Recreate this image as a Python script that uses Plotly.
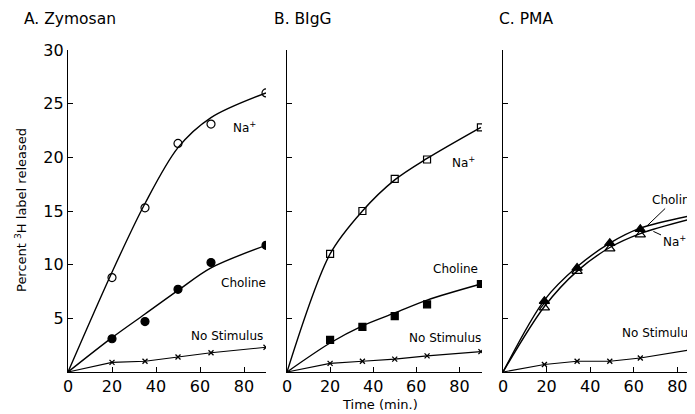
import plotly.graph_objects as go

# ---------------- data ----------------
time_ab = [20, 35, 50, 65, 90]
time_c = [19, 34, 49, 63, 87]

# measured points
zym_na = [8.8, 15.3, 21.3, 23.1, 26.0]
zym_choline = [3.1, 4.7, 7.7, 10.2, 11.8]
zym_nostim = [0.9, 1.0, 1.4, 1.8, 2.3]

bigg_na = [11.0, 15.0, 18.0, 19.8, 22.8]
bigg_choline = [3.0, 4.2, 5.2, 6.3, 8.2]
bigg_nostim = [0.8, 1.0, 1.2, 1.5, 1.9]

pma_choline = [6.6, 9.7, 12.0, 13.3, 14.5]
pma_na = [6.0, 9.4, 11.5, 12.8, 14.2]
pma_nostim = [0.7, 1.0, 1.0, 1.3, 2.1]

# hand-drawn fitted curves, starting at t = 0
fit_time_ab = [0, 20, 35, 50, 65, 90]
fit_time_c = [0, 19, 34, 49, 63, 87]
zym_na_fit = [0, 9.3, 15.7, 20.9, 23.7, 26.0]
zym_choline_fit = [0, 3.2, 5.4, 7.6, 9.7, 11.8]
bigg_na_fit = [0, 11.0, 15.0, 17.9, 19.9, 22.8]
bigg_choline_fit = [0, 2.7, 4.3, 5.5, 6.7, 8.2]
pma_choline_fit = [0, 6.7, 9.8, 12.0, 13.4, 14.6]
pma_na_fit = [0, 6.1, 9.4, 11.6, 12.9, 14.3]

x_ticks = [0, 20, 40, 60, 80]
x_tick_text = ["0", "20", "40", "60", "80"]
y_ticks = [5, 10, 15, 20, 25, 30]
y_tick_text = ["5", "10", "15", "20", "25", "30"]

panel_titles = ["A. Zymosan", "B. BIgG", "C. PMA"]

# ---------------- layout geometry (screen pixels) ----------------
W, H = 695, 414
OFF = 8  # the page body adds an 8px margin around the figure
FONT = "DejaVu Sans"
px = lambda v: (v - OFF) / W
py = lambda v: 1 - (v - OFF) / H

y_bottom, y_top = 372, 50
panels = [
    dict(x0=68, x1=266, xmax=90),
    dict(x0=287, x1=482, xmax=90.5),
    dict(x0=503, x1=695, xmax=88.1),
]

c = panels[2]
cx = lambda v: (v - c["x0"]) / (c["x1"] - c["x0"]) * c["xmax"]
cy = lambda v: (y_bottom - v) / (y_bottom - y_top) * 30

fig = go.Figure()


def axes(i):
    return ("x" if i == 0 else f"x{i+1}", "y" if i == 0 else f"y{i+1}")


def add_curve(i, xs, ys, width=1.4):
    xa, ya = axes(i)
    fig.add_trace(go.Scatter(
        x=xs, y=ys, mode="lines",
        line=dict(color="black", width=width, shape="spline", smoothing=0.9),
        xaxis=xa, yaxis=ya, showlegend=False, hoverinfo="skip"))


def add_points(i, xs, ys, symbol, size, mline=1.2):
    xa, ya = axes(i)
    fig.add_trace(go.Scatter(
        x=xs, y=ys, mode="markers",
        marker=dict(symbol=symbol, size=size, color="black",
                    line=dict(color="black", width=mline)),
        xaxis=xa, yaxis=ya, showlegend=False))


def add_nostim(i, xs, ys):
    xa, ya = axes(i)
    fig.add_trace(go.Scatter(
        x=[0] + list(xs), y=[0] + list(ys), mode="lines",
        line=dict(color="black", width=1.1),
        xaxis=xa, yaxis=ya, showlegend=False))
    fig.add_trace(go.Scatter(
        x=xs, y=ys, mode="markers",
        marker=dict(symbol="x-thin", size=5, color="black",
                    line=dict(color="black", width=1.3)),
        xaxis=xa, yaxis=ya, showlegend=False))


# Panel A
add_curve(0, fit_time_ab, zym_na_fit)
add_points(0, time_ab, zym_na, "circle-open", 8)
add_curve(0, fit_time_ab, zym_choline_fit)
add_points(0, time_ab, zym_choline, "circle", 8)
add_nostim(0, time_ab, zym_nostim)
# Panel B
add_curve(1, fit_time_ab, bigg_na_fit)
add_points(1, time_ab, bigg_na, "square-open", 7)
add_curve(1, fit_time_ab, bigg_choline_fit)
add_points(1, time_ab, bigg_choline, "square", 7)
add_nostim(1, time_ab, bigg_nostim)
# Panel C
add_curve(2, fit_time_c, pma_choline_fit)
add_points(2, time_c, pma_choline, "triangle-up", 9)
add_curve(2, fit_time_c, pma_na_fit)
add_points(2, time_c, pma_na, "triangle-up-open", 9)
add_nostim(2, time_c, pma_nostim)

layout = dict(
    width=W, height=H,
    margin=dict(l=0, r=0, t=0, b=0, autoexpand=False),
    paper_bgcolor="white", plot_bgcolor="white",
    font=dict(family=FONT, color="black", size=13),
    showlegend=False,
)

for i, p in enumerate(panels):
    sx = "" if i == 0 else str(i + 1)
    layout[f"xaxis{sx}"] = dict(
        domain=[px(p["x0"]), px(p["x1"])], range=[0, p["xmax"]],
        anchor=f"y{sx}", showgrid=False, zeroline=False,
        showline=True, linecolor="black", linewidth=1.3,
        ticks="inside", ticklen=5, tickwidth=1.2, tickcolor="black",
        tickvals=x_ticks, ticktext=x_tick_text, automargin=False,
        tickfont=dict(family=FONT, size=16, color="black"),
    )
    layout[f"yaxis{sx}"] = dict(
        domain=[py(y_bottom), py(y_top)], range=[0, 30],
        anchor=f"x{sx}", showgrid=False, zeroline=False,
        showline=True, linecolor="black", linewidth=1.3,
        ticks="inside", ticklen=5, tickwidth=1.2, tickcolor="black",
        tickvals=y_ticks, ticktext=y_tick_text, automargin=False,
        showticklabels=(i == 0),
        tickfont=dict(family=FONT, size=16, color="black"),
    )

fig.update_layout(**layout)

ann = []
for t, xp in zip(panel_titles, [22, 272, 497]):
    ann.append(dict(text=t, x=px(xp), y=py(19), xref="paper", yref="paper",
                    xanchor="left", yanchor="middle", showarrow=False,
                    font=dict(size=15.5)))

ann.append(dict(text="Percent <sup>3</sup>H label released", x=px(21), y=py(210),
                xref="paper", yref="paper", textangle=-90, showarrow=False,
                xanchor="center", yanchor="middle", font=dict(size=13)))
ann.append(dict(text="Time (min.)", x=px(380), y=py(404), xref="paper", yref="paper",
                showarrow=False, xanchor="center", yanchor="middle", font=dict(size=13)))

lab = [
    ("Na<sup>+</sup>", 245, 127),
    ("Choline", 243, 283),
    ("No Stimulus", 227, 336),
    ("Na<sup>+</sup>", 463, 162),
    ("Choline", 455, 269),
    ("No Stimulus", 445, 338),
    ("No Stimulus", 658, 333),
]
for t, xx, yy in lab:
    ann.append(dict(text=t, x=px(xx), y=py(yy), xref="paper", yref="paper",
                    showarrow=False, xanchor="center", yanchor="middle",
                    font=dict(size=12)))

ann.append(dict(text="Choline", x=66, y=13.6, xref="x3", yref="y3",
                ax=cx(674), ay=cy(200), axref="x3", ayref="y3",
                showarrow=True, arrowhead=0,
                arrowwidth=1, arrowcolor="black", standoff=0, font=dict(size=12)))
ann.append(dict(text="Na<sup>+</sup>", x=69, y=13.1, xref="x3", yref="y3",
                ax=cx(674), ay=cy(241), axref="x3", ayref="y3",
                showarrow=True, arrowhead=0,
                arrowwidth=1, arrowcolor="black", standoff=0, font=dict(size=12)))

fig.update_layout(annotations=ann)
fig.write_html("out.html")
